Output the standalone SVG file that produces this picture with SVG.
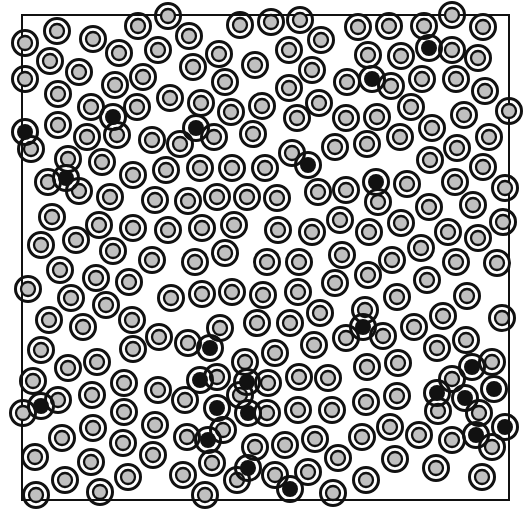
<svg xmlns="http://www.w3.org/2000/svg" xmlns:xlink="http://www.w3.org/1999/xlink" width="527" height="512" viewBox="0 0 527 512">
<style>
.o{fill:none;stroke:#111;stroke-width:3}
.i{fill:#c0c0c0;stroke:#111;stroke-width:2.3}
.k{fill:#111}
.f{fill:none;stroke:#111;stroke-width:2}
</style>
<defs>
<g id="p"><circle r="12.5" class="o"/><circle r="7" class="i"/></g>
<g id="b"><circle r="12.5" class="o"/><circle r="8" class="k"/></g>
</defs>
<rect width="527" height="512" fill="#fff"/>
<rect x="22" y="15" width="487" height="485" class="f"/>
<g id="gray">
<use href="#p" x="57" y="31"/><use href="#p" x="138" y="26"/><use href="#p" x="168" y="16"/><use href="#p" x="240" y="25"/><use href="#p" x="271" y="22"/><use href="#p" x="300" y="20"/><use href="#p" x="358" y="27"/><use href="#p" x="389" y="26"/><use href="#p" x="424" y="26"/><use href="#p" x="452" y="15"/><use href="#p" x="483" y="27"/>
<use href="#p" x="25" y="43"/><use href="#p" x="93" y="39"/><use href="#p" x="189" y="36"/><use href="#p" x="321" y="40"/><use href="#p" x="119" y="53"/><use href="#p" x="158" y="50"/><use href="#p" x="219" y="54"/><use href="#p" x="289" y="50"/><use href="#p" x="368" y="55"/><use href="#p" x="401" y="56"/><use href="#p" x="452" y="50"/><use href="#p" x="478" y="58"/><use href="#p" x="50" y="61"/>
<use href="#p" x="193" y="67"/><use href="#p" x="255" y="65"/><use href="#p" x="312" y="70"/><use href="#p" x="79" y="72"/><use href="#p" x="143" y="77"/><use href="#p" x="25" y="79"/><use href="#p" x="115" y="85"/><use href="#p" x="225" y="82"/><use href="#p" x="289" y="88"/><use href="#p" x="347" y="82"/><use href="#p" x="391" y="86"/><use href="#p" x="422" y="79"/><use href="#p" x="456" y="79"/><use href="#p" x="485" y="91"/>
<use href="#p" x="58" y="94"/><use href="#p" x="170" y="98"/><use href="#p" x="91" y="107"/><use href="#p" x="137" y="107"/><use href="#p" x="201" y="103"/><use href="#p" x="262" y="106"/><use href="#p" x="319" y="103"/><use href="#p" x="231" y="112"/><use href="#p" x="297" y="118"/><use href="#p" x="346" y="118"/><use href="#p" x="411" y="107"/><use href="#p" x="377" y="117"/><use href="#p" x="464" y="115"/><use href="#p" x="509" y="111"/>
<use href="#p" x="58" y="125"/><use href="#p" x="87" y="137"/><use href="#p" x="117" y="135"/><use href="#p" x="152" y="140"/><use href="#p" x="214" y="137"/><use href="#p" x="253" y="134"/><use href="#p" x="180" y="144"/><use href="#p" x="31" y="149"/><use href="#p" x="292" y="153"/><use href="#p" x="335" y="147"/><use href="#p" x="432" y="128"/><use href="#p" x="367" y="144"/><use href="#p" x="400" y="137"/><use href="#p" x="457" y="148"/><use href="#p" x="489" y="137"/>
<use href="#p" x="68" y="159"/><use href="#p" x="102" y="162"/><use href="#p" x="133" y="175"/><use href="#p" x="166" y="170"/><use href="#p" x="200" y="168"/><use href="#p" x="232" y="168"/><use href="#p" x="265" y="168"/><use href="#p" x="430" y="160"/><use href="#p" x="483" y="167"/>
<use href="#p" x="48" y="182"/><use href="#p" x="79" y="191"/><use href="#p" x="110" y="197"/><use href="#p" x="155" y="200"/><use href="#p" x="188" y="201"/><use href="#p" x="217" y="197"/><use href="#p" x="247" y="197"/><use href="#p" x="277" y="198"/><use href="#p" x="318" y="192"/><use href="#p" x="346" y="190"/><use href="#p" x="407" y="184"/><use href="#p" x="455" y="182"/><use href="#p" x="505" y="188"/>
<use href="#p" x="52" y="217"/><use href="#p" x="99" y="225"/><use href="#p" x="133" y="228"/><use href="#p" x="168" y="230"/><use href="#p" x="202" y="228"/><use href="#p" x="234" y="225"/><use href="#p" x="278" y="230"/><use href="#p" x="312" y="232"/><use href="#p" x="340" y="220"/><use href="#p" x="378" y="202"/><use href="#p" x="429" y="207"/><use href="#p" x="473" y="205"/><use href="#p" x="503" y="222"/><use href="#p" x="369" y="232"/><use href="#p" x="401" y="223"/><use href="#p" x="448" y="232"/><use href="#p" x="478" y="238"/>
<use href="#p" x="41" y="245"/><use href="#p" x="76" y="240"/><use href="#p" x="113" y="251"/><use href="#p" x="152" y="260"/><use href="#p" x="195" y="262"/><use href="#p" x="225" y="253"/><use href="#p" x="267" y="262"/><use href="#p" x="299" y="262"/><use href="#p" x="342" y="255"/><use href="#p" x="421" y="248"/><use href="#p" x="392" y="260"/><use href="#p" x="456" y="262"/><use href="#p" x="497" y="263"/>
<use href="#p" x="60" y="270"/><use href="#p" x="96" y="278"/><use href="#p" x="129" y="282"/><use href="#p" x="28" y="289"/><use href="#p" x="71" y="298"/><use href="#p" x="171" y="298"/><use href="#p" x="202" y="294"/><use href="#p" x="232" y="292"/><use href="#p" x="263" y="295"/><use href="#p" x="298" y="292"/><use href="#p" x="335" y="283"/><use href="#p" x="368" y="275"/><use href="#p" x="427" y="280"/><use href="#p" x="397" y="297"/><use href="#p" x="467" y="296"/>
<use href="#p" x="106" y="305"/><use href="#p" x="49" y="320"/><use href="#p" x="83" y="327"/><use href="#p" x="132" y="320"/><use href="#p" x="220" y="328"/><use href="#p" x="257" y="323"/><use href="#p" x="290" y="323"/><use href="#p" x="320" y="313"/><use href="#p" x="365" y="310"/><use href="#p" x="414" y="327"/><use href="#p" x="443" y="316"/><use href="#p" x="502" y="318"/>
<use href="#p" x="159" y="337"/><use href="#p" x="41" y="350"/><use href="#p" x="188" y="343"/><use href="#p" x="346" y="338"/><use href="#p" x="383" y="336"/><use href="#p" x="466" y="340"/><use href="#p" x="437" y="348"/><use href="#p" x="133" y="349"/><use href="#p" x="245" y="362"/><use href="#p" x="275" y="353"/><use href="#p" x="314" y="345"/>
<use href="#p" x="68" y="368"/><use href="#p" x="97" y="362"/><use href="#p" x="33" y="381"/><use href="#p" x="124" y="383"/><use href="#p" x="158" y="390"/><use href="#p" x="217" y="377"/><use href="#p" x="268" y="383"/><use href="#p" x="299" y="377"/><use href="#p" x="328" y="378"/><use href="#p" x="367" y="367"/><use href="#p" x="398" y="363"/><use href="#p" x="492" y="362"/><use href="#p" x="452" y="379"/>
<use href="#p" x="58" y="400"/><use href="#p" x="23" y="413"/><use href="#p" x="92" y="395"/><use href="#p" x="124" y="412"/><use href="#p" x="185" y="400"/><use href="#p" x="240" y="395"/><use href="#p" x="267" y="413"/><use href="#p" x="298" y="410"/><use href="#p" x="332" y="410"/><use href="#p" x="366" y="402"/><use href="#p" x="397" y="396"/><use href="#p" x="438" y="411"/><use href="#p" x="479" y="413"/>
<use href="#p" x="62" y="438"/><use href="#p" x="93" y="428"/><use href="#p" x="155" y="425"/><use href="#p" x="123" y="443"/><use href="#p" x="187" y="437"/><use href="#p" x="223" y="430"/><use href="#p" x="255" y="447"/><use href="#p" x="285" y="445"/><use href="#p" x="315" y="439"/><use href="#p" x="390" y="427"/><use href="#p" x="362" y="437"/><use href="#p" x="419" y="435"/><use href="#p" x="452" y="440"/><use href="#p" x="492" y="447"/>
<use href="#p" x="153" y="455"/><use href="#p" x="35" y="457"/><use href="#p" x="91" y="462"/><use href="#p" x="65" y="480"/><use href="#p" x="128" y="477"/><use href="#p" x="36" y="495"/><use href="#p" x="100" y="492"/><use href="#p" x="183" y="475"/><use href="#p" x="212" y="463"/><use href="#p" x="237" y="480"/><use href="#p" x="275" y="475"/><use href="#p" x="308" y="472"/><use href="#p" x="205" y="495"/><use href="#p" x="333" y="493"/><use href="#p" x="338" y="458"/><use href="#p" x="395" y="459"/><use href="#p" x="436" y="468"/><use href="#p" x="366" y="480"/><use href="#p" x="482" y="477"/>
</g>
<g id="black">
<use href="#b" x="429" y="48"/><use href="#b" x="372" y="79"/><use href="#b" x="113" y="117"/><use href="#b" x="196" y="128"/><use href="#b" x="25" y="132"/><use href="#b" x="66" y="178"/><use href="#b" x="308" y="165"/><use href="#b" x="376" y="182"/><use href="#b" x="363" y="327"/><use href="#b" x="210" y="348"/><use href="#b" x="200" y="380"/><use href="#b" x="247" y="382"/><use href="#b" x="217" y="408"/><use href="#b" x="248" y="413"/><use href="#b" x="208" y="440"/><use href="#b" x="248" y="468"/><use href="#b" x="290" y="489"/><use href="#b" x="41" y="406"/><use href="#b" x="437" y="393"/><use href="#b" x="465" y="398"/><use href="#b" x="494" y="389"/><use href="#b" x="472" y="367"/><use href="#b" x="476" y="435"/><use href="#b" x="505" y="427"/>
</g>
</svg>
